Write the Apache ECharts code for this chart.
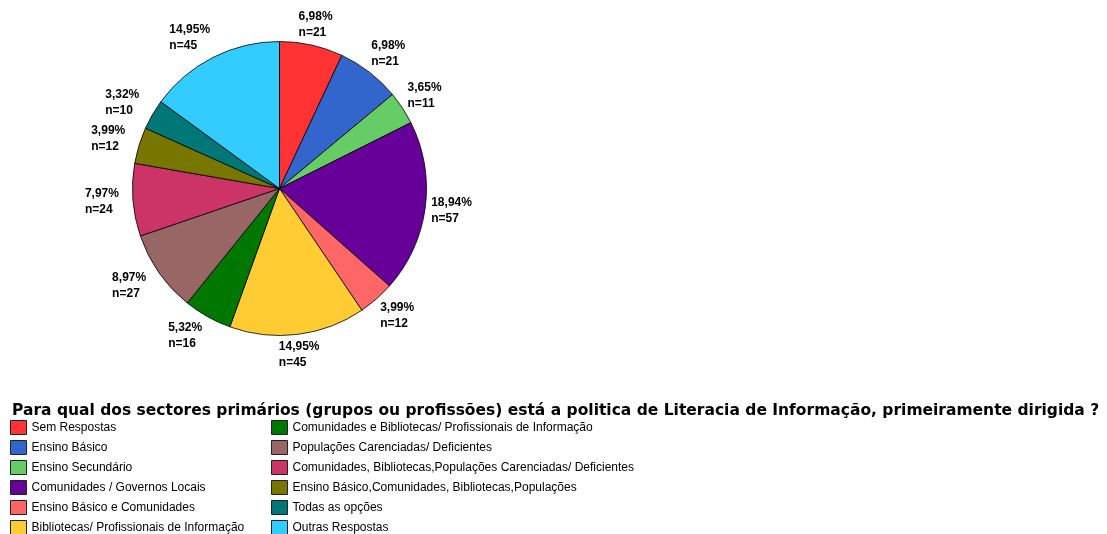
<!DOCTYPE html>
<html>
<head>
<meta charset="utf-8">
<script src="https://cdn.jsdelivr.net/npm/echarts@6/dist/echarts.min.js"></script>
<style>
html,body{margin:0;padding:0;background:#fff;}
#chart{width:1107px;height:534px;}
</style>
</head>
<body>
<div id="chart"></div>
<script>
const categories = [
  "Sem Respostas",
  "Ensino Básico",
  "Ensino Secundário",
  "Comunidades / Governos Locais",
  "Ensino Básico e Comunidades",
  "Bibliotecas/ Profissionais de Informação",
  "Comunidades e Bibliotecas/ Profissionais de Informação",
  "Populações Carenciadas/ Deficientes",
  "Comunidades, Bibliotecas,Populações Carenciadas/ Deficientes",
  "Ensino Básico,Comunidades, Bibliotecas,Populações",
  "Todas as opções",
  "Outras Respostas"
];
const counts = [21, 21, 11, 57, 12, 45, 16, 27, 24, 12, 10, 45];
const colors = ["#FF3333", "#3366CC", "#66CC66", "#660099", "#FF6666", "#FFCC33",
                "#007700", "#996666", "#CC3366", "#777700", "#007777", "#33CCFF"];
const titleText = "Para qual dos sectores primários (grupos ou profissões) está a politica de Literacia de Informação, primeiramente dirigida ?";

const total = counts.reduce((a, b) => a + b, 0);
const pieCenter = [279.5, 188.5];
const pieRadius = 147;

const chart = echarts.init(document.getElementById('chart'), null, {renderer: 'canvas'});
const data = categories.map((c, i) => ({name: c, value: counts[i], itemStyle: {color: colors[i]}}));

const legendCommon = {
  orient: 'vertical',
  top: 420,
  height: 200,
  padding: 0,
  itemWidth: 16,
  itemHeight: 14,
  itemGap: 5,
  icon: 'rect',
  selectedMode: false,
  itemStyle: {borderColor: '#222', borderWidth: 1},
  textStyle: {fontFamily: 'Liberation Sans, Arial, sans-serif', fontSize: 12, color: '#000'}
};

// outside-end label placement: box touches a point just outside the slice edge
function placeLabel(params) {
  const i = params.dataIndex;
  let cum = 0;
  for (let k = 0; k < i; k++) cum += counts[k];
  const mid = (cum + counts[i] / 2) / total * Math.PI * 2;
  const dx = Math.sin(mid), dy = -Math.cos(mid);
  const w = params.labelRect.width, h = params.labelRect.height;
  const gap = 6, W = w + 8, H = h - 4;
  const sx = Math.max(-1, Math.min(1, 1.5 * dx));
  const sy = Math.max(-1, Math.min(1, 1.2 * dy));
  const ex = pieCenter[0] + dx * (pieRadius + gap);
  const ey = pieCenter[1] + dy * (pieRadius + gap);
  const bcx = ex + W / 2 * sx, bcy = ey + H / 2 * sy;
  return {x: bcx - W / 2, y: bcy - h / 2, align: 'left', verticalAlign: 'top'};
}

chart.setOption({
  animation: false,
  backgroundColor: '#fff',
  title: {
    text: titleText,
    left: 7,
    top: 398,
    textStyle: {fontFamily: 'DejaVu Sans, sans-serif', fontSize: 15.5, fontWeight: 'bold', color: '#000'}
  },
  legend: [
    Object.assign({}, legendCommon, {left: 10, data: categories.slice(0, 6)}),
    Object.assign({}, legendCommon, {left: 271, data: categories.slice(6)})
  ],
  series: [{
    type: 'pie',
    center: pieCenter,
    radius: pieRadius,
    startAngle: 90,
    clockwise: true,
    avoidLabelOverlap: false,
    data: data,
    itemStyle: {borderColor: '#000', borderWidth: 0.8},
    label: {
      show: true,
      position: 'outside',
      fontFamily: 'Liberation Sans, Arial, sans-serif',
      fontSize: 12,
      fontWeight: 'bold',
      color: '#000',
      lineHeight: 16,
      formatter: p => (p.value / total * 100).toFixed(2).replace('.', ',') + '%\nn=' + p.value
    },
    labelLine: {show: false, length: 6, length2: 0},
    labelLayout: placeLabel,
    emphasis: {disabled: true}
  }]
});
</script>
</body>
</html>
